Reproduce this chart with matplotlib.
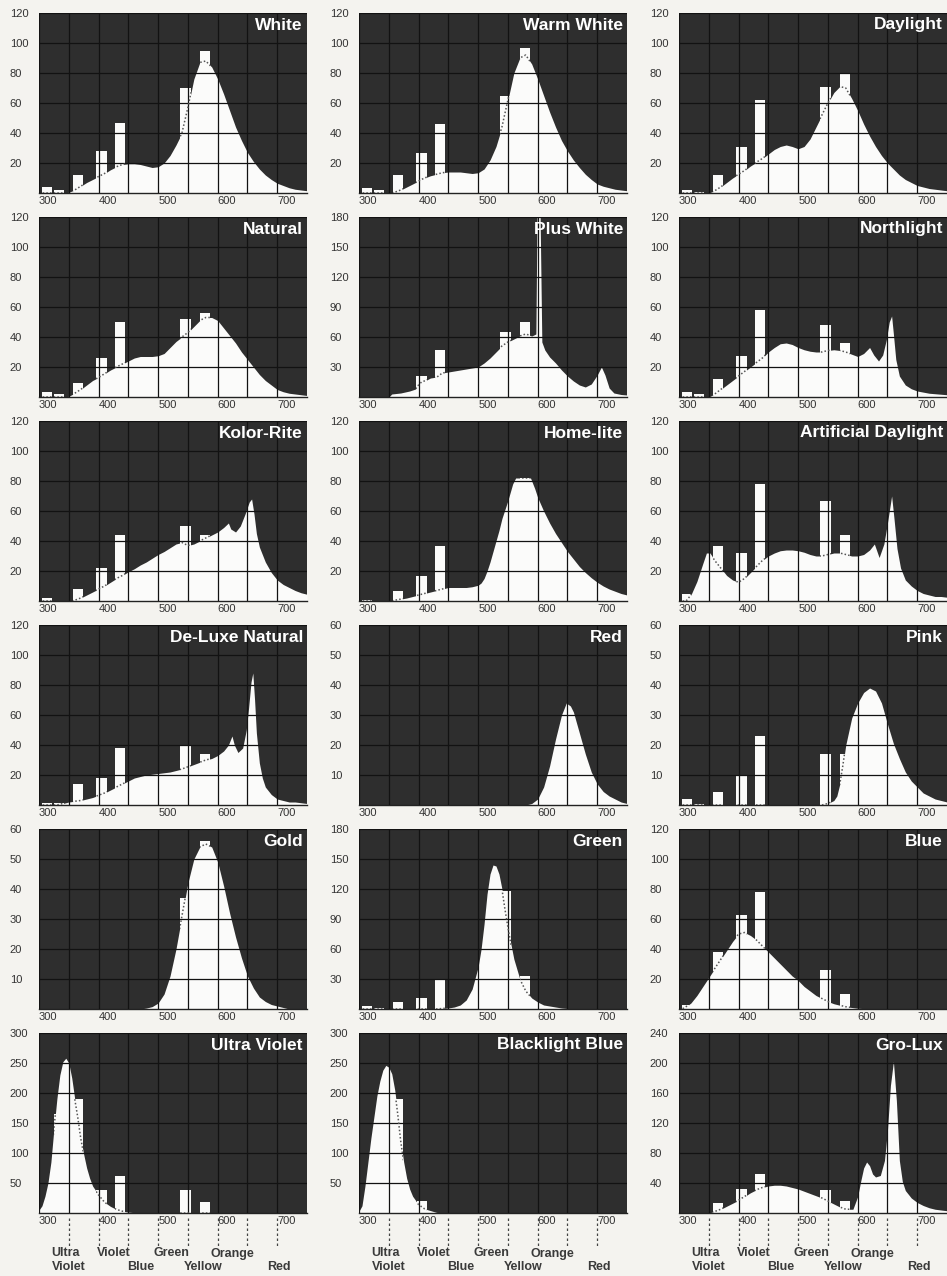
import matplotlib
matplotlib.use("Agg")
import matplotlib.pyplot as plt
from matplotlib.patches import Rectangle

plt.rcParams["font.family"] = ["Liberation Sans", "DejaVu Sans"]

PAGE = "#f4f3ef"
DARK = "#2e2e2e"
FILL = "#fbfbfa"
GRID = "#121212"
TEXT = "#333333"

# mercury lines drawn as bars, nm
HG_LINES = [313, 334, 365, 405, 436, 546, 578]
BAR_W = 17

# ---- continuum curves (nm, relative power) ----
white = [(300, 0), (345, 0), (350, 0.5), (360, 2), (370, 4.5), (380, 7), (390, 9), (400, 11), (410, 13),
         (420, 15.5), (430, 17.5), (440, 19), (450, 19.5), (460, 19.5), (470, 19), (480, 18), (490, 17),
         (500, 17.5), (510, 20), (520, 25), (530, 32), (540, 40), (550, 57), (560, 76), (570, 87), (580, 88),
         (590, 84), (600, 76), (610, 66), (620, 55), (630, 44), (640, 35), (650, 27), (660, 21), (670, 16),
         (680, 12), (690, 9), (700, 6.5), (710, 5), (720, 3.5), (730, 2.5), (740, 2), (750, 1.5)]
warm_white = [(300, 0), (355, 0), (360, 0.5), (370, 2), (380, 4), (390, 6), (400, 8), (410, 10), (420, 11.5),
              (430, 12.5), (440, 13.5), (450, 14), (460, 14), (470, 14), (480, 13.5), (490, 13), (500, 13.5),
              (510, 16), (520, 22), (530, 31), (540, 44), (550, 62), (560, 80), (570, 90), (580, 92), (590, 86),
              (600, 76), (610, 65), (620, 54), (630, 44), (640, 35), (650, 28), (660, 22), (670, 17),
              (680, 12.5), (690, 9), (700, 6), (710, 4.5), (720, 3.5), (730, 2.5), (740, 2), (750, 1.5)]
daylight = [(300, 0), (350, 0), (360, 1.5), (370, 4), (380, 7), (390, 10), (400, 12.5), (410, 15), (420, 18),
            (430, 20.5), (440, 23), (450, 26), (460, 29), (470, 31), (480, 32), (490, 31), (500, 29.5),
            (510, 31), (520, 36), (530, 44), (540, 52), (550, 60), (560, 67), (570, 71), (580, 70), (590, 63),
            (600, 55), (610, 46), (620, 38), (630, 31), (640, 25), (650, 20), (660, 16), (670, 12), (680, 9),
            (690, 7), (700, 5), (710, 4), (720, 3), (730, 2.5), (740, 2), (750, 1.5)]
natural = [(300, 0), (345, 0), (350, 0.5), (360, 2.5), (370, 5), (380, 8), (390, 11), (400, 13), (410, 15.5),
           (420, 18), (430, 20), (440, 22), (450, 24), (460, 26), (470, 27), (480, 27), (490, 27), (500, 27.5),
           (510, 29), (520, 33), (530, 37), (540, 40), (550, 43), (560, 47), (570, 51), (580, 53), (590, 53),
           (600, 51), (610, 46), (620, 41), (630, 36), (640, 30), (650, 25), (660, 20), (670, 15), (680, 11),
           (690, 8), (700, 5), (710, 3.5), (720, 2.5), (730, 2), (740, 1.5), (750, 1)]
plus_white = [(300, 0), (350, 0), (355, 3), (370, 4), (385, 6), (395, 8), (400, 12), (405, 15), (412, 16.5),
              (420, 19), (431, 20), (440, 24), (450, 25), (460, 26), (470, 27), (480, 28), (490, 29),
              (500, 30), (510, 34), (520, 39), (530, 45), (540, 51), (550, 55), (560, 58), (570, 61),
              (580, 63), (590, 61), (597, 63), (599, 185), (604, 185), (607, 55), (612, 47), (620, 40),
              (630, 34), (640, 27), (650, 21), (660, 16), (670, 12), (680, 10), (690, 13), (700, 22),
              (707, 30), (713, 22), (720, 9), (728, 4), (740, 2.5), (750, 2)]
northlight = [(300, 0), (350, 0), (360, 2), (370, 5), (380, 8), (390, 11), (400, 14), (410, 17), (420, 20),
              (430, 23), (440, 26), (450, 30), (460, 33), (470, 35.5), (480, 36), (490, 35), (500, 33),
              (510, 31.5), (520, 30.5), (530, 30), (540, 30), (550, 31), (560, 31.5), (570, 31), (580, 30),
              (590, 28.5), (600, 27), (610, 29), (620, 33), (627, 28), (635, 24), (642, 28), (648, 38),
              (653, 50), (657, 54), (660, 42), (664, 25), (670, 14), (680, 8), (690, 5.5), (700, 4),
              (720, 2.5), (750, 1.5)]
kolor_rite = [(300, 0), (355, 0), (360, 0.5), (370, 2), (380, 4), (390, 6), (400, 8), (410, 10), (420, 12.5),
              (430, 15), (440, 17), (450, 19.5), (460, 21.5), (470, 24), (480, 26), (490, 28.5), (500, 31),
              (510, 33), (520, 35.5), (530, 38), (540, 39), (550, 37), (560, 38), (570, 40), (580, 42),
              (590, 44), (600, 46), (610, 49), (618, 52), (622, 48), (630, 46), (638, 50), (646, 58),
              (653, 66), (657, 68), (661, 58), (665, 45), (670, 36), (680, 26), (690, 19), (700, 14),
              (710, 11), (720, 9), (730, 7), (740, 5.5), (750, 4.5)]
home_lite = [(300, 0), (355, 0), (360, 0.5), (380, 2), (400, 4), (420, 6), (440, 8), (450, 9), (460, 9),
             (470, 9), (480, 9), (490, 9.5), (500, 10.5), (505, 12), (510, 15), (515, 20), (520, 26),
             (525, 33), (530, 40), (535, 47), (540, 55), (550, 67), (558, 78), (563, 82), (588, 82),
             (595, 75), (600, 69), (610, 60), (620, 52), (630, 45), (640, 39), (650, 33), (660, 28),
             (670, 23), (680, 19), (690, 15.5), (700, 12.5), (710, 10), (720, 8), (730, 6.5), (740, 5),
             (750, 4)]
artificial_daylight = [(300, 0), (312, 0), (320, 4), (330, 13), (340, 25), (346, 32), (352, 32), (360, 27),
                       (370, 22), (380, 17), (390, 14), (400, 12.5), (410, 15), (420, 19), (430, 23),
                       (440, 27), (450, 30), (460, 32), (470, 33.5), (480, 34), (490, 34), (500, 33.5),
                       (510, 32.5), (520, 31), (530, 30), (540, 30), (550, 31), (560, 32), (570, 32),
                       (580, 31), (590, 30), (600, 30), (610, 31), (620, 34), (628, 38), (636, 29),
                       (644, 38), (650, 52), (657, 70), (661, 55), (666, 35), (672, 22), (680, 14), (690, 10),
                       (700, 7), (710, 5), (720, 4), (730, 3), (740, 3), (750, 2.5)]
deluxe_natural = [(300, 0), (330, 0), (340, 1), (350, 2), (360, 2.5), (370, 3), (380, 4), (390, 5),
                  (400, 6.5), (410, 8), (420, 10), (430, 12), (440, 14), (450, 16), (460, 18), (470, 19),
                  (480, 20), (490, 20.5), (500, 21), (510, 21.5), (520, 22), (530, 23), (540, 24),
                  (550, 25.5), (560, 27), (570, 28.5), (580, 30), (590, 31), (600, 33), (610, 36),
                  (618, 40), (624, 46), (628, 40), (634, 35), (642, 38), (648, 50), (652, 65), (656, 82),
                  (659, 88), (662, 70), (665, 48), (670, 28), (675, 18), (680, 12), (690, 7), (700, 4),
                  (710, 3), (720, 2), (730, 2), (740, 1.5), (750, 1)]
red = [(300, 0), (580, 0), (590, 0.5), (600, 2), (610, 6), (620, 13), (630, 22), (640, 30), (648, 34),
       (655, 33), (660, 31), (670, 24), (680, 17), (690, 11), (700, 7), (710, 4.5), (720, 3), (730, 2),
       (740, 1), (750, 0.5)]
pink = [(300, 0), (540, 0), (550, 0.5), (560, 1.5), (565, 3), (570, 7), (575, 13), (580, 20), (590, 29),
        (600, 34), (610, 37.5), (620, 39), (630, 38), (640, 34), (650, 27), (660, 20.5), (670, 15.5),
        (680, 11), (690, 8), (700, 6), (710, 4), (720, 3), (730, 2), (740, 1.5), (750, 1)]
gold = [(300, 0), (470, 0), (480, 0.3), (490, 0.8), (500, 2), (510, 5), (520, 11), (530, 20), (540, 31),
        (550, 42), (560, 50), (570, 54), (580, 55), (590, 54), (600, 49), (610, 41), (620, 32), (630, 24),
        (640, 17), (650, 11), (660, 7), (670, 4), (680, 2.5), (690, 1.5), (700, 1), (710, 0.5), (720, 0),
        (750, 0)]
green = [(300, 0), (430, 0), (440, 0.5), (450, 1), (460, 2), (470, 4), (480, 9), (490, 20), (500, 42),
         (505, 60), (510, 85), (515, 115), (520, 135), (525, 144), (530, 143), (535, 135), (540, 120),
         (545, 100), (550, 82), (555, 65), (560, 50), (570, 30), (580, 18), (590, 11), (600, 7), (610, 4),
         (620, 3), (630, 2), (640, 1), (650, 0.5), (670, 0), (750, 0)]
blue = [(300, 0), (305, 0), (310, 1), (320, 4), (330, 9), (340, 15), (350, 21), (360, 27), (370, 33),
        (380, 39), (390, 45), (400, 50), (410, 51), (420, 49), (430, 46), (440, 42), (450, 38), (460, 34),
        (470, 30), (480, 26), (490, 22), (500, 19), (510, 15), (520, 12), (530, 9), (540, 7), (550, 5),
        (560, 3.5), (570, 2.5), (580, 1.5), (590, 1), (600, 0.5), (620, 0), (750, 0)]
ultra_violet = [(300, 5), (305, 12), (310, 28), (315, 50), (320, 85), (325, 140), (330, 190), (335, 230),
                (340, 252), (345, 258), (350, 250), (355, 225), (360, 190), (365, 160), (370, 125), (375, 98),
                (380, 75), (385, 58), (390, 45), (400, 30), (410, 18), (420, 11), (430, 6), (440, 3),
                (450, 1.5), (460, 0.5), (470, 0), (750, 0)]
blacklight_blue = [(300, 3), (305, 12), (310, 45), (315, 85), (320, 125), (325, 160), (330, 195), (335, 220),
                   (340, 238), (345, 246), (350, 243), (355, 232), (360, 205), (365, 165), (370, 120),
                   (375, 85), (380, 58), (385, 40), (390, 28), (400, 14), (410, 7), (420, 4), (430, 1),
                   (440, 0), (750, 0)]
gro_lux = [(300, 0), (350, 0), (360, 2), (370, 5), (380, 9), (390, 13), (400, 17), (410, 22), (420, 27),
           (430, 31), (440, 34), (450, 36), (460, 37), (470, 37), (480, 36), (490, 34), (500, 32), (510, 29),
           (520, 26), (530, 23), (540, 20), (550, 16), (560, 12), (570, 8), (580, 5), (592, 5), (600, 22),
           (605, 42), (610, 60), (615, 68), (620, 63), (625, 52), (630, 48), (638, 50), (645, 70),
           (650, 110), (655, 170), (660, 202), (665, 150), (670, 70), (675, 42), (680, 30), (690, 20),
           (700, 14), (710, 10), (720, 7), (730, 5), (740, 4), (750, 3)]

# ---- mercury-line bar heights, one per HG_LINES entry (0 = not shown) ----
white_bars = [4, 2, 12, 28, 47, 70, 95]
warm_white_bars = [3.5, 2, 12, 27, 46, 65, 97]
daylight_bars = [2, 1, 12, 31, 62, 71, 80]
natural_bars = [3, 2, 9, 26, 50, 52, 56]
plus_white_bars = [0, 0, 0, 21, 47, 65, 75]
northlight_bars = [3, 2, 12, 27, 58, 48, 36]
kolor_rite_bars = [2, 0, 8, 22, 44, 50, 44]
home_lite_bars = [1, 0, 7, 17, 37, 48, 82]
artificial_daylight_bars = [5, 0, 37, 32, 78, 67, 44]
deluxe_natural_bars = [1.5, 1.5, 14, 18, 38, 40, 34]
red_bars = [0, 0, 0, 0, 0, 0, 0]
pink_bars = [2, 0.5, 4.5, 10, 23, 17, 17]
gold_bars = [0, 0, 0, 0, 0, 37, 56]
green_bars = [3, 1.5, 7, 11, 30, 118, 33]
blue_bars = [3, 0, 38, 63, 78, 26, 10]
ultra_violet_bars = [0, 165, 190, 39, 61, 39, 18]
blacklight_blue_bars = [0, 0, 190, 20, 0, 0, 0]
gro_lux_bars = [0, 0, 13, 32, 52, 31, 16]

NAMES = ["White", "Warm White", "Daylight",
         "Natural", "Plus White", "Northlight",
         "Kolor-Rite", "Home-lite", "Artificial Daylight",
         "De-Luxe Natural", "Red", "Pink",
         "Gold", "Green", "Blue",
         "Ultra Violet", "Blacklight Blue", "Gro-Lux"]
Y_MAX = [120, 120, 120, 120, 180, 120, 120, 120, 120, 120, 60, 60, 60, 180, 120, 300, 300, 240]
Y_STEP = [20, 20, 20, 20, 30, 20, 20, 20, 20, 20, 10, 10, 10, 30, 20, 50, 50, 40]
CURVES = [white, warm_white, daylight, natural, plus_white, northlight, kolor_rite, home_lite,
          artificial_daylight, deluxe_natural, red, pink, gold, green, blue, ultra_violet,
          blacklight_blue, gro_lux]
BARS = [white_bars, warm_white_bars, daylight_bars, natural_bars, plus_white_bars, northlight_bars,
        kolor_rite_bars, home_lite_bars, artificial_daylight_bars, deluxe_natural_bars, red_bars, pink_bars,
        gold_bars, green_bars, blue_bars, ultra_violet_bars, blacklight_blue_bars, gro_lux_bars]

X_LABELS = [300, 400, 500, 600, 700]
X_MINOR = [350, 450, 550, 650]

# colour bands under the bottom row
BAND_EDGES = [350, 400, 450, 500, 550, 600, 650, 700]
COLOR_NAMES = ["Ultra", "Violet", "Violet", "Blue", "Green", "Yellow", "Orange", "Red"]
COLOR_X = [345, 350, 425, 470, 522, 575, 625, 703]
COLOR_ROW = [0, 1, 0, 1, 0, 1, 0, 1]

# layout in pixels
W, H = 947, 1276
COL_X = [39, 359, 679]
ROW_TOP = [13, 217, 421, 625, 829, 1033]
AX_W, AX_H = 268, 180

fig = plt.figure(figsize=(W / 100, H / 100), dpi=100, facecolor=PAGE)

for i, name in enumerate(NAMES):
    r, c = divmod(i, 3)
    ax = fig.add_axes([COL_X[c] / W, 1 - (ROW_TOP[r] + AX_H) / H, AX_W / W, AX_H / H])
    ax.set_facecolor(DARK)
    wl = [p[0] for p in CURVES[i]]
    val = [p[1] for p in CURVES[i]]
    ax.fill_between(wl, val, 0, color=FILL, lw=0, zorder=1)

    for x0, h in zip(HG_LINES, BARS[i]):
        if h <= 0:
            continue
        rect = Rectangle((x0 - BAR_W / 2, 0), BAR_W, h, facecolor=FILL, edgecolor="none", zorder=2)
        ax.add_patch(rect)
        # the continuum behind the bar, dotted
        dot, = ax.plot(wl, val, ls=(0, (1, 1.4)), color="#555555", lw=1.1, zorder=4)
        dot.set_clip_path(rect)

    ymax, step = Y_MAX[i], Y_STEP[i]
    ax.set_xlim(300, 750)
    ax.set_ylim(0, ymax)
    ax.set_xticks(X_LABELS)
    ax.set_xticks(X_MINOR, minor=True)
    ax.set_yticks(list(range(step, ymax + 1, step)))
    ax.set_axisbelow(False)
    ax.grid(which="both", axis="x", color=GRID, lw=0.9)
    ax.grid(which="major", axis="y", color=GRID, lw=0.9)
    ax.tick_params(which="both", length=0)
    ax.tick_params(axis="x", pad=2, labelsize=8, labelcolor=TEXT)
    ax.tick_params(axis="y", pad=21, labelsize=8, labelcolor=TEXT)
    for lbl in ax.get_xticklabels():
        lbl.set_horizontalalignment("left")
    for lbl in ax.get_yticklabels():
        lbl.set_horizontalalignment("left")
    for s in ("top", "left", "right"):
        ax.spines[s].set_visible(False)
    ax.spines["bottom"].set_color("#222222")
    ax.spines["bottom"].set_linewidth(1.0)

    ax.text(0.985, 0.975, name, transform=ax.transAxes, ha="right", va="top", color="white",
            fontsize=12.5, fontweight="bold", zorder=6)

    if r == 5:
        tr = ax.get_xaxis_transform()
        for e in BAND_EDGES:
            ax.plot([e, e], [-0.03, -0.19], transform=tr, ls=(0, (2, 2)), color="#444444", lw=0.9,
                    clip_on=False)
        for lab, x, row in zip(COLOR_NAMES, COLOR_X, COLOR_ROW):
            ax.text(x, -0.225 if row == 0 else -0.30, lab, transform=tr, ha="center", va="center",
                    fontsize=9, fontweight="bold", color="#3a3a3a")

fig.savefig("out.png", dpi=100, facecolor=PAGE)
